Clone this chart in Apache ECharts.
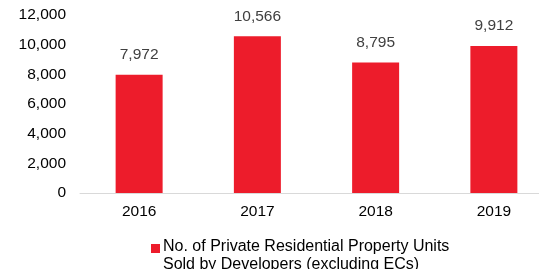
<!DOCTYPE html>
<html><head><meta charset="utf-8">
<script src="https://cdn.jsdelivr.net/npm/echarts@6/dist/echarts.min.js"></script>
<style>html,body{margin:0;padding:0;background:#fff;overflow:hidden}#c{width:553px;height:269px}</style>
</head><body><div id="c"></div>
<script>
const categories = ['2016', '2017', '2018', '2019'];
const unitsSold = [7972, 10566, 8795, 9912];
const seriesName = 'No. of Private Residential Property Units\nSold by Developers (excluding ECs)';

const chart = echarts.init(document.getElementById('c'), null, {renderer: 'canvas'});
chart.setOption({
  animation: false,
  backgroundColor: '#fff',
  textStyle: {fontFamily: 'Liberation Sans, Arial, sans-serif'},
  grid: {left: 80, right: 0, top: 15, bottom: 76, containLabel: false},
  legend: {
    data: [seriesName],
    left: 151, top: 238, padding: 0,
    icon: 'path://M0,0H9V9H0Z M0,24h0.01v0.01h-0.01Z', itemWidth: 9, itemHeight: 24, itemGap: 0,
    textStyle: {fontSize: 16, color: '#000', lineHeight: 18, padding: [0, 0, 0, -2]}
  },
  xAxis: {
    type: 'category', data: categories,
    axisLine: {lineStyle: {color: '#d9d9d9', width: 1}},
    axisTick: {show: false},
    axisLabel: {fontSize: 15.5, color: '#000', margin: 11}
  },
  yAxis: {
    type: 'value', min: 0, max: 12000, interval: 2000,
    axisLine: {show: false}, axisTick: {show: false},
    splitLine: {show: false},
    axisLabel: {fontSize: 15.5, color: '#000', margin: 14,
      formatter: v => v.toLocaleString('en-US')}
  },
  series: [{
    name: seriesName, type: 'bar', data: unitsSold, barWidth: 47,
    itemStyle: {color: '#ED1C2B'},
    label: {show: true, position: 'top', distance: 12, fontSize: 15.5, color: '#404040',
      formatter: p => p.value.toLocaleString('en-US')}
  }]
});
</script></body></html>
